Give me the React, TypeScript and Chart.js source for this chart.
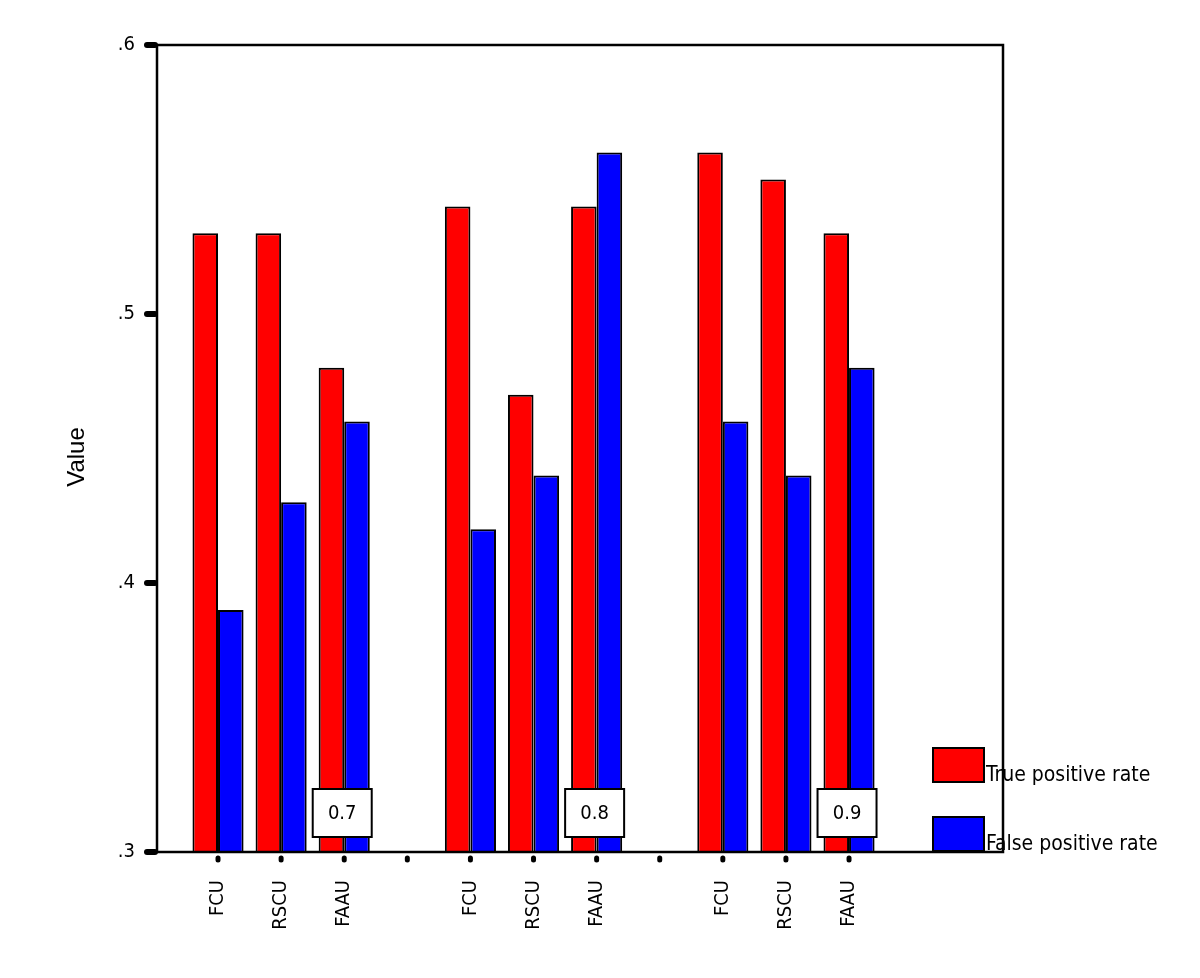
import React, { useEffect, useRef } from "react";
import { Chart, registerables } from "chart.js";

Chart.register(...registerables);

// x positions 1..11; positions 4 and 8 are gaps between groups
const xLabels = ["FCU", "RSCU", "FAAU", "", "FCU", "RSCU", "FAAU", "", "FCU", "RSCU", "FAAU"];
const barPositions = [1, 2, 3, 5, 6, 7, 9, 10, 11];
const truePositive = [0.53, 0.53, 0.48, 0.54, 0.47, 0.54, 0.56, 0.55, 0.53];
const falsePositive = [0.39, 0.43, 0.46, 0.42, 0.44, 0.56, 0.46, 0.44, 0.48];
const groupLabels = ["0.7", "0.8", "0.9"];
const groupLabelPositions = [3, 7, 11];
const yTicks = [0.3, 0.4, 0.5, 0.6];

const FONT = "'DejaVu Sans Condensed', 'DejaVu Sans', sans-serif";

const decorPlugin = {
  id: "decor",
  afterDatasetsDraw(chart: any) {
    const { ctx, chartArea, scales } = chart;
    const xs = scales.x;
    ctx.save();
    ctx.font = `20px ${FONT}`;
    ctx.textAlign = "center";
    ctx.textBaseline = "middle";
    groupLabels.forEach((lab, i) => {
      const cx = xs.getPixelForValue(groupLabelPositions[i]) - 2;
      const bw = 59, bh = 48;
      const by = chartArea.bottom - 15 - bh;
      ctx.fillStyle = "#fff";
      ctx.fillRect(cx - bw / 2, by, bw, bh);
      ctx.strokeStyle = "#000";
      ctx.lineWidth = 2;
      ctx.strokeRect(cx - bw / 2, by, bw, bh);
      ctx.fillStyle = "#000";
      ctx.fillText(lab, cx, by + bh / 2 + 1);
    });
    ctx.restore();
  },
  afterDraw(chart: any) {
    const { ctx, chartArea, scales } = chart;
    const xs = scales.x;
    const ys = scales.y;
    ctx.save();
    ctx.strokeStyle = "#000";
    ctx.lineWidth = 2.5;
    ctx.strokeRect(chartArea.left, chartArea.top, chartArea.right - chartArea.left, chartArea.bottom - chartArea.top);
    ctx.lineCap = "round";
    ctx.lineWidth = 6;
    yTicks.forEach((v) => {
      const py = ys.getPixelForValue(v);
      ctx.beginPath();
      ctx.moveTo(chartArea.left - 10, py);
      ctx.lineTo(chartArea.left - 2, py);
      ctx.stroke();
    });
    ctx.lineWidth = 5;
    xLabels.forEach((_, i) => {
      const px = xs.getPixelForValue(i + 1);
      ctx.beginPath();
      ctx.moveTo(px, chartArea.bottom + 6);
      ctx.lineTo(px, chartArea.bottom + 8);
      ctx.stroke();
    });
    ctx.save();
    ctx.translate(77, 457);
    ctx.rotate(-Math.PI / 2);
    ctx.font = "24px 'Liberation Sans', Arial, sans-serif";
    ctx.textAlign = "center";
    ctx.textBaseline = "middle";
    ctx.fillStyle = "#000";
    ctx.fillText("Value", 0, 0);
    ctx.restore();
    const items = chart.data.datasets;
    ctx.font = `21px ${FONT}`;
    ctx.textAlign = "left";
    ctx.textBaseline = "alphabetic";
    items.forEach((ds: any, i: number) => {
      const bx = 933;
      const by = 748 + i * 69;
      ctx.fillStyle = ds.backgroundColor;
      ctx.fillRect(bx, by, 51, 34);
      ctx.strokeStyle = "#000";
      ctx.lineWidth = 2;
      ctx.lineCap = "butt";
      ctx.strokeRect(bx, by, 51, 34);
      ctx.fillStyle = "#000";
      ctx.fillText(ds.label, bx + 53, by + 33);
    });
    ctx.restore();
  },
};

export default function App() {
  const ref = useRef<HTMLCanvasElement>(null);
  useEffect(() => {
    if (!ref.current) return;
    const chart = new Chart(ref.current, {
      type: "bar",
      data: {
        datasets: [
          {
            label: "True positive rate",
            data: barPositions.map((x, i) => ({ x, y: truePositive[i] })),
            backgroundColor: "#ff0000",
            borderColor: "#000",
            borderWidth: 2,
            base: 0.3,
          } as any,
          {
            label: "False positive rate",
            data: barPositions.map((x, i) => ({ x, y: falsePositive[i] })),
            backgroundColor: "#0000ff",
            borderColor: "#000",
            borderWidth: 2,
            base: 0.3,
          } as any,
        ],
      },
      plugins: [decorPlugin],
      options: {
        animation: false,
        responsive: false,
        categoryPercentage: 0.81,
        barPercentage: 1.0,
        layout: { padding: { left: 0, top: 45, right: 197, bottom: 0 } },
        plugins: { legend: { display: false }, tooltip: { enabled: false } },
        scales: {
          x: {
            type: "linear",
            offset: false,
            min: 0.033,
            max: 13.44,
            grid: { display: false, drawTicks: false, offset: false },
            border: { display: false },
            afterBuildTicks: (s: any) => {
              s.ticks = xLabels.map((_, i) => ({ value: i + 1 }));
            },
            afterFit: (s: any) => {
              s.height = 978 - 852;
            },
            ticks: {
              autoSkip: false,
              minRotation: 90,
              maxRotation: 90,
              padding: 28,
              color: "#000",
              font: { family: FONT, size: 20 },
              callback: (v: any) => xLabels[Math.round(v) - 1] ?? "",
            },
          },
          y: {
            type: "linear",
            min: 0.3,
            max: 0.6,
            grid: { display: false, drawTicks: false },
            border: { display: false },
            afterBuildTicks: (s: any) => {
              s.ticks = yTicks.map((v) => ({ value: v }));
            },
            afterFit: (s: any) => {
              s.width = 157;
            },
            ticks: {
              padding: 22,
              color: "#000",
              font: { family: FONT, size: 20 },
              callback: (v: any) => Number(v).toFixed(1).replace(/^0/, ""),
            },
          },
        },
      } as any,
    });
    return () => chart.destroy();
  }, []);
  return (
    <div style={{ position: "absolute", left: 0, top: 0, width: 1200, height: 978, background: "#fff" }}>
      <canvas ref={ref} width={1200} height={978} />
    </div>
  );
}
